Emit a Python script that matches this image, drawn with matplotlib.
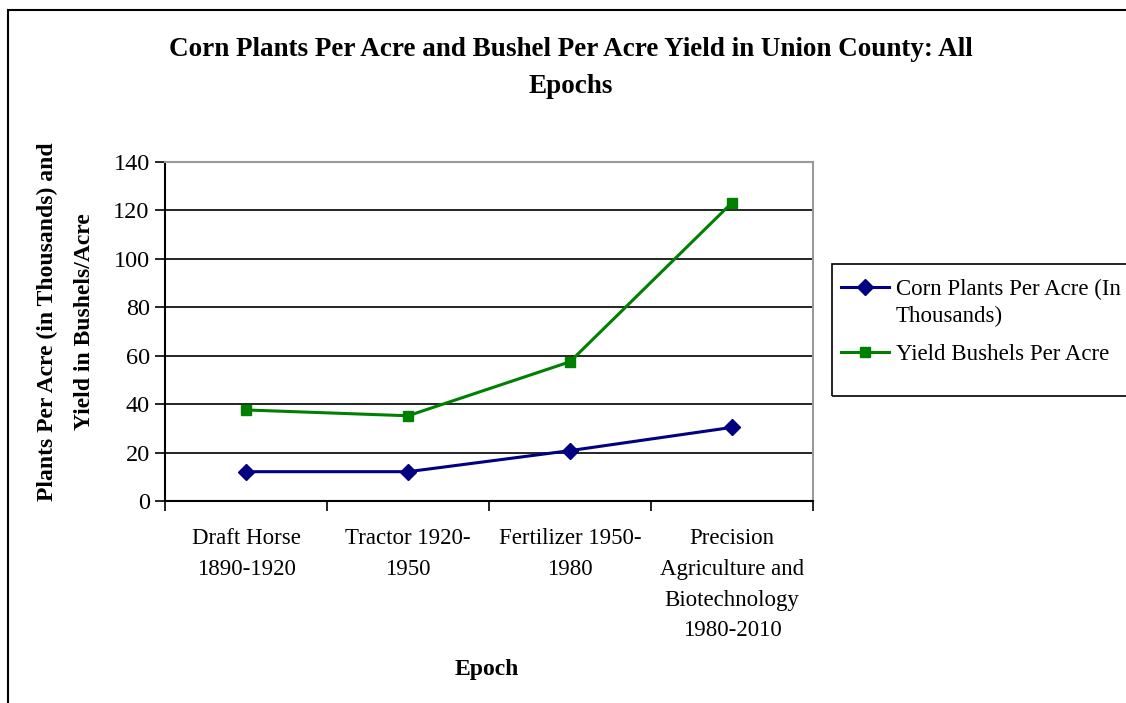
import matplotlib.pyplot as plt
from matplotlib.patches import Rectangle
import numpy as np

# datos
epocas = ["Draft Horse\n1890-1920", "Tractor 1920-\n1950", "Fertilizer 1950-\n1980",
          "Precision\nAgriculture and\nBiotechnology\n1980-2010"]
plantas = [12.1, 12.1, 20.8, 30.4]
rendimiento = [37.6, 35.2, 57.5, 123.2]
yticks = [0, 20, 40, 60, 80, 100, 120, 140]

plt.rcParams['font.family'] = ['Liberation Serif', 'DejaVu Serif']

fig = plt.figure(figsize=(11.26, 7.03), dpi=100)
W, H = 1126, 703
ax = fig.add_axes([165 / W, 1 - 501 / H, (813 - 165) / W, (501 - 162) / H])

x = np.arange(len(epocas))
ax.plot(x, plantas, color='#000080', lw=2.2, marker='D', ms=8, label='Corn Plants Per Acre (In')
ax.plot(x, rendimiento, color='#008000', lw=2.2, marker='s', ms=7.5, label='Yield Bushels Per Acre')

ax.set_xlim(-0.5, 3.5)
ax.set_ylim(0, 140)
ax.set_yticks(yticks)
ax.set_yticklabels([str(v) for v in yticks], fontsize=17.5)
ax.grid(axis='y', color='black', lw=1.2)
ax.set_axisbelow(True)

ax.set_xticks(x)
ax.set_xticklabels(epocas, fontsize=16.5, linespacing=1.61)
ax.tick_params(axis='x', which='major', length=0, pad=19.5)
ax.set_xticks(np.arange(-0.5, 4, 1), minor=True)
ax.tick_params(axis='x', which='minor', length=7, width=1.2, direction='out')
ax.tick_params(axis='y', length=7, width=1.2, direction='out', pad=4)

for s in ['top', 'right']:
    ax.spines[s].set_color('#999999')
    ax.spines[s].set_linewidth(1.5)
for s in ['left', 'bottom']:
    ax.spines[s].set_linewidth(1.5)

# titulos de ejes y grafica
fig.text(487 / W, 1 - 670 / H, 'Epoch', ha='center', va='center', fontsize=17, fontweight='bold')
fig.text(66 / W, 1 - 322 / H, 'Plants Per Acre (in Thousands) and\nYield in Bushels/Acre',
         ha='center', va='center', rotation=90, fontsize=17, fontweight='bold',
         linespacing=1.95, multialignment='center')
fig.text(571 / W, 1 - 68 / H, 'Corn Plants Per Acre and Bushel Per Acre Yield in Union County: All\nEpochs',
         ha='center', va='center', fontsize=19.5, fontweight='bold', linespacing=1.6)

leg = fig.legend(loc='upper left', bbox_to_anchor=(841 / W, 1 - 279 / H), fontsize=16.5,
                 frameon=False, handlelength=2.1, handletextpad=0.3,
                 borderpad=0, labelspacing=1.9, borderaxespad=0)
fig.text(896 / W, 1 - 316 / H, 'Thousands)', ha='left', va='center', fontsize=16.5)

# caja de la leyenda y marco exterior
fig.patches.append(Rectangle((832 / W, 1 - 396 / H), 0.5, 132 / H, transform=fig.transFigure,
                             fill=False, edgecolor='black', lw=1.2))
fig.patches.append(Rectangle((8 / W, -0.1), 1.2, 1 - 10 / H + 0.1, transform=fig.transFigure,
                             fill=False, edgecolor='black', lw=1.5))

fig.savefig('out.png', dpi=100)
